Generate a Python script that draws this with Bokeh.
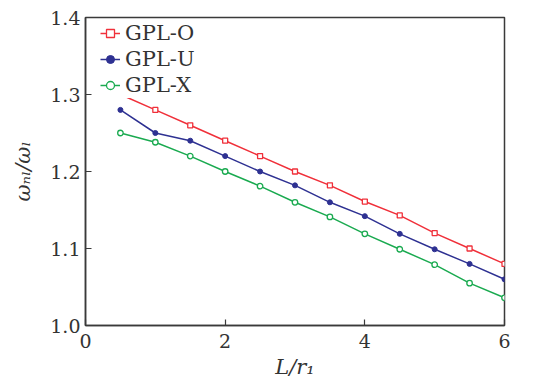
from bokeh.plotting import figure
from bokeh.models import Legend, LegendItem, Range1d, FixedTicker
from bokeh.embed import file_html
from bokeh.resources import INLINE

x = [0.5, 1.0, 1.5, 2.0, 2.5, 3.0, 3.5, 4.0, 4.5, 5.0, 5.5, 6.0]
gpl_o = [1.300, 1.280, 1.260, 1.240, 1.220, 1.200, 1.182, 1.161, 1.143, 1.120, 1.100, 1.080]
gpl_u = [1.280, 1.250, 1.240, 1.220, 1.200, 1.182, 1.160, 1.142, 1.119, 1.099, 1.080, 1.060]
gpl_x = [1.250, 1.238, 1.220, 1.200, 1.181, 1.160, 1.141, 1.119, 1.099, 1.079, 1.055, 1.036]
x_ticks = [0, 2, 4, 6]
y_ticks = [1.0, 1.1, 1.2, 1.3, 1.4]

FONT = "DejaVu Serif"
AX = "#3a3a3a"

p = figure(frame_width=419, frame_height=308, output_backend="svg", toolbar_location=None,
           x_range=Range1d(0, 6), y_range=Range1d(1.0, 1.4),
           min_border_left=85, min_border_top=17, min_border_right=25, min_border_bottom=50)
p.grid.visible = False
p.outline_line_color = AX
p.outline_line_width = 1.5
p.background_fill_color = "white"

for ax in (p.xaxis, p.yaxis):
    ax.axis_line_color = AX
    ax.axis_line_width = 1.5
    ax.major_tick_line_color = AX
    ax.major_tick_line_width = 1.2
    ax.major_tick_in = 6
    ax.major_tick_out = 0
    ax.minor_tick_line_color = None
    ax.major_label_text_font = FONT
    ax.major_label_text_font_size = "19px"
    ax.major_label_text_color = "#333333"
    ax.axis_label_text_font = FONT
    ax.axis_label_text_font_size = "21px"
    ax.axis_label_text_font_style = "italic"
    ax.axis_label_text_color = "#333333"

p.xaxis.ticker = FixedTicker(ticks=x_ticks)
p.yaxis.ticker = FixedTicker(ticks=y_ticks)
p.xaxis.major_label_overrides = {t: str(t) for t in x_ticks}
p.yaxis.major_label_overrides = {t: f"{t:.1f}" for t in y_ticks}
p.xaxis.major_label_standoff = 8
p.yaxis.major_label_standoff = 5
p.xaxis.axis_label = "L/r₁"
p.yaxis.axis_label = "ωₙₗ/ωₗ"
p.xaxis.axis_label_standoff = 4
p.yaxis.axis_label_standoff = 12

lo = p.line(x, gpl_o, line_color="#f0303a", line_width=1.5)
mo = p.scatter(x, gpl_o, marker="square", size=5, line_color="#f0303a", fill_color="white", line_width=1.3)
lu = p.line(x, gpl_u, line_color="#2e3192", line_width=1.5)
mu = p.scatter(x, gpl_u, marker="circle", size=5, line_color="#2e3192", fill_color="#2e3192")
lx = p.line(x, gpl_x, line_color="#1aaa50", line_width=1.5)
mx = p.scatter(x, gpl_x, marker="circle", size=5.5, line_color="#1aaa50", fill_color="white", line_width=1.3)

legend = Legend(items=[
    LegendItem(label="GPL-O", renderers=[lo, mo]),
    LegendItem(label="GPL-U", renderers=[lu, mu]),
    LegendItem(label="GPL-X", renderers=[lx, mx]),
], location=(15, 227), padding=0, margin=0, spacing=0,
    glyph_width=20, glyph_height=26, label_height=26, label_standoff=5,
    label_text_font=FONT, label_text_font_size="21px", label_text_color="#333333",
    border_line_color=None, background_fill_color="white", background_fill_alpha=1.0)
p.add_layout(legend, "center")

open("out.html", "w").write(file_html(p, INLINE))
